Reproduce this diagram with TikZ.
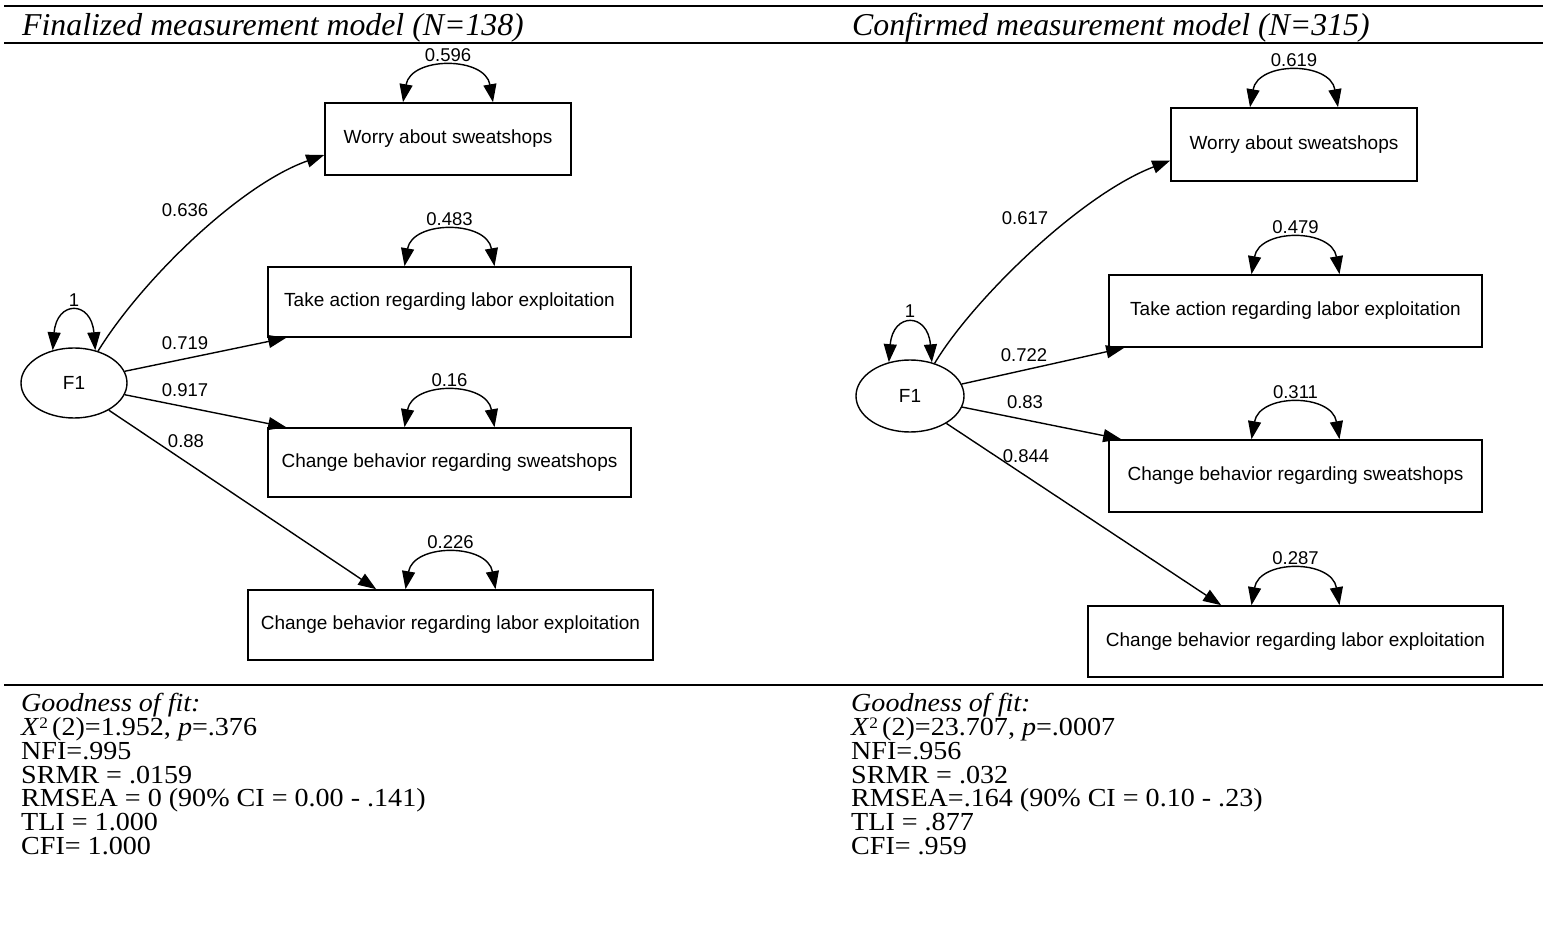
\documentclass[tikz,border=0pt]{standalone}
\usepackage{fontspec}
\setmainfont{Liberation Serif}
\newfontfamily\bodyfont[FakeStretch=1.08]{Liberation Serif}
\newfontfamily\arialfont{Liberation Sans}
\usetikzlibrary{arrows.meta,shapes.geometric,calc}
\newcommand{\supertwo}{\raisebox{7pt}{\fontsize{16}{16}\selectfont 2}}
\begin{document}
\begin{tikzpicture}[x=1pt,y=-1pt,
  box/.style={draw, line width=1.6pt, minimum width=#1, minimum height=71pt, inner sep=0pt,
    font=\arialfont\fontsize{19}{22}\selectfont},
  latent/.style={ellipse, draw, line width=1.4pt, minimum width=106pt, minimum height=70pt,
    inner sep=0pt, font=\arialfont\fontsize{19}{22}\selectfont},
  con/.style={line width=1.4pt, -{Triangle[length=18pt,width=13pt]}},
  cov/.style={line width=1.4pt, {Triangle[length=18pt,width=13pt]}-{Triangle[length=18pt,width=13pt]}},
  lab/.style={inner sep=0pt, font=\arialfont\fontsize{18.5}{22}\selectfont},
  ttl/.style={anchor=base west, inner sep=0pt, font=\fontsize{31.8}{34}\selectfont\itshape},
  body/.style={anchor=base west, inner sep=0pt, font=\bodyfont\fontsize{26}{28}\selectfont},
  thickrule/.style={line width=2.2pt},
  thinrule/.style={line width=1.2pt}
]
\useasboundingbox (0,0) rectangle (1543,941);
\fill[white] (0,0) rectangle (1543,941);

% table rules
\draw[thickrule] (4,6) -- (1543,6);
\draw[thickrule] (4,43) -- (20,43);
\draw[thinrule] (20,43) -- (660,43);
\draw[thickrule] (660,43) -- (852,43);
\draw[thinrule] (852,43) -- (1430,43);
\draw[thickrule] (1430,43) -- (1543,43);
\draw[thickrule] (4,685) -- (1543,685);

% titles
\node[ttl] (tl) at (22,36) {Finalized measurement model (N=138)};
\node[ttl] (tr) at (852,36) {Confirmed measurement model (N=315)};

% ---------- left model ----------
\node[box=246pt, minimum height=72pt] (w1) at (448,139) {Worry about sweatshops};
\node[box=363pt, minimum height=70pt] (t1) at (449.5,302) {Take action regarding labor exploitation};
\node[box=363pt, minimum height=69pt] (s1) at (449.5,462.5) {Change behavior regarding sweatshops};
\node[box=405pt, minimum height=70pt] (l1) at (450.5,625) {Change behavior regarding labor exploitation};
\node[latent] (F1a) at (74,383) {F1};

\foreach \b/\v in {w1/0.596, t1/0.483, s1/0.16, l1/0.226}{
  \draw[cov] ($(\b.north)+(-45,0)$) .. controls +(8,-46) and +(-8,-46) .. ($(\b.north)+(45,0)$);
  \node[lab] (c\b) at ($(\b.north)+(0,-47)$) {\v};
}
\draw[cov] (F1a.123) .. controls +(4,-50) and +(-4,-50) .. (F1a.57);
\node[lab] (va) at ($(F1a.north)+(0,-47)$) {1};

\draw[con] (F1a.53) .. controls +(43,-70) and +(-85,30) .. ($(w1.west)+(0,16)$);
\draw[con] (F1a.13) -- ($(t1.south west)+(19,0)$);
\draw[con] (F1a.-13) -- ($(s1.north west)+(19,0)$);
\draw[con] (F1a.-38) -- ($(l1.north west)+(129,0)$);
\node[lab] (la1) at (185,210) {0.636};
\node[lab] (la2) at (185,343) {0.719};
\node[lab] (la3) at (185,390) {0.917};
\node[lab] (la4) at (186,441) {0.88};

% ---------- right model ----------
\node[box=246pt, minimum height=73pt] (w2) at (1294,144.5) {Worry about sweatshops};
\node[box=373pt, minimum height=72pt] (t2) at (1295.5,311) {Take action regarding labor exploitation};
\node[box=373pt, minimum height=72pt] (s2) at (1295.5,476) {Change behavior regarding sweatshops};
\node[box=415pt, minimum height=71pt] (l2) at (1295.5,641.5) {Change behavior regarding labor exploitation};
\node[latent, minimum width=108pt, minimum height=72pt] (F1b) at (910,396) {F1};

\foreach \b/\v in {w2/0.619, t2/0.479, s2/0.311, l2/0.287}{
  \draw[cov] ($(\b.north)+(-44,0)$) .. controls +(8,-46) and +(-8,-46) .. ($(\b.north)+(44,0)$);
  \node[lab] (c\b) at ($(\b.north)+(0,-47)$) {\v};
}
\draw[cov] (F1b.122) .. controls +(4,-50) and +(-4,-50) .. (F1b.57);
\node[lab] (vb) at ($(F1b.north)+(0,-48)$) {1};

\draw[con] (F1b.53) .. controls +(37,-62) and +(-91,35) .. ($(w2.west)+(0,16)$);
\draw[con] (F1b.13) -- ($(t2.south west)+(16,0)$);
\draw[con] (F1b.-12) -- ($(s2.north west)+(13,0)$);
\draw[con] (F1b.-37) -- ($(l2.north west)+(134,0)$);
\node[lab] (lb1) at (1025,218) {0.617};
\node[lab] (lb2) at (1024,355) {0.722};
\node[lab] (lb3) at (1025,402) {0.83};
\node[lab] (lb4) at (1026,456) {0.844};

% ---------- fit statistics ----------
\node[body] (g1) at (21,711.5) {\textit{Goodness of fit:}};
\node[body] (g2) at (21,735.7) {\textit{X}\supertwo\,(2)=1.952, \textit{p}=.376};
\node[body] (g3) at (21,759.4) {NFI=.995};
\node[body] (g4) at (21,783.1) {SRMR = .0159};
\node[body] (g5) at (21,806.8) {RMSEA = 0 (90\% CI = 0.00 - .141)};
\node[body] (g6) at (21,830.5) {TLI = 1.000};
\node[body] (g7) at (21,854.2) {CFI= 1.000};

\node[body] (h1) at (851,711.5) {\textit{Goodness of fit:}};
\node[body] (h2) at (851,735.7) {\textit{X}\supertwo\,(2)=23.707, \textit{p}=.0007};
\node[body] (h3) at (851,759.4) {NFI=.956};
\node[body] (h4) at (851,783.1) {SRMR = .032};
\node[body] (h5) at (851,806.8) {RMSEA=.164 (90\% CI = 0.10 - .23)};
\node[body] (h6) at (851,830.5) {TLI = .877};
\node[body] (h7) at (851,854.2) {CFI= .959};
\end{tikzpicture}
\end{document}
